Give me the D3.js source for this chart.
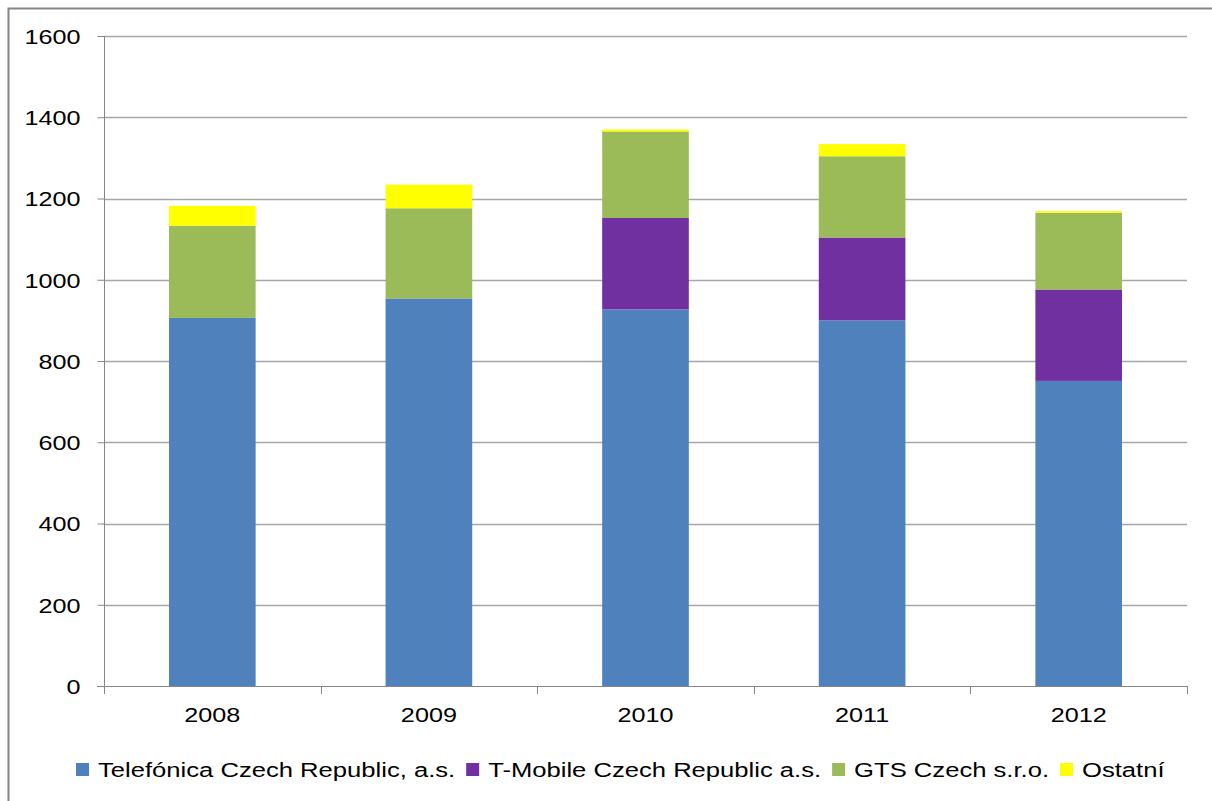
<!DOCTYPE html>
<html>
<head>
<meta charset="utf-8">
<script src="https://cdn.jsdelivr.net/npm/d3@7"></script>
<style>
    body { margin: 0; background: #fff; }
    svg { display: block; font-family: "Liberation Sans", Arial, sans-serif; }
</style>
</head>
<body>
<svg width="1212" height="801"></svg>
<script>
// data
const years = ["2008", "2009", "2010", "2011", "2012"];
const seriesNames = ["Telefónica Czech Republic, a.s.", "T-Mobile Czech Republic a.s.", "GTS Czech s.r.o.", "Ostatní"];
const telefonica = [906, 954, 927, 900, 751];
const tmobile = [0, 0, 225, 204, 225];
const gts = [227, 222, 213, 200, 189];
const ostatni = [49, 58, 5, 30, 4];
const colors = ["#4f81bd", "#7030a0", "#9bbb59", "#ffff00"];
const yTicks = [0, 200, 400, 600, 800, 1000, 1200, 1400, 1600];

const rows = years.map((yr, i) => ({
    year: yr,
    s0: telefonica[i], s1: tmobile[i], s2: gts[i], s3: ostatni[i]
}));

const svg = d3.select("svg");
const plotLeft = 104, plotRight = 1187, plotTop = 36, plotBottom = 686;
const stretch = 1.2; // the original text is a bit wide

// chart frame (runs off the right/bottom edge like the original)
svg.append("rect")
    .attr("x", 8.5).attr("y", 8.5)
    .attr("width", 1220).attr("height", 810)
    .attr("fill", "none")
    .attr("stroke", "#868686")
    .attr("stroke-width", 2);

const x = d3.scaleBand()
    .domain(years)
    .range([plotLeft, plotRight])
    .paddingInner(0.6)
    .paddingOuter(0.3);

const y = d3.scaleLinear()
    .domain([0, 1600])
    .range([plotBottom, plotTop]);

// gridlines
svg.append("g")
    .selectAll("line")
    .data(yTicks.filter(t => t > 0))
    .enter().append("line")
    .attr("x1", plotLeft).attr("x2", plotRight)
    .attr("y1", d => Math.round(y(d)) + 0.5)
    .attr("y2", d => Math.round(y(d)) + 0.5)
    .attr("stroke", "#a6a6a6")
    .attr("stroke-width", 1.3);

// stacked bars
const stack = d3.stack().keys(["s0", "s1", "s2", "s3"]);
const layers = stack(rows);

svg.append("g")
    .selectAll("g")
    .data(layers)
    .enter().append("g")
    .attr("fill", (d, i) => colors[i])
    .selectAll("rect")
    .data(d => d)
    .enter().append("rect")
    .attr("x", d => x(d.data.year))
    .attr("width", x.bandwidth())
    .attr("y", d => y(d[1]))
    .attr("height", d => y(d[0]) - y(d[1]));

// y axis
const yAxis = svg.append("g")
    .attr("transform", `translate(${plotLeft + 0.5},0)`)
    .call(d3.axisLeft(y).tickValues(yTicks).tickFormat(d3.format("d")).tickSize(7));
yAxis.select(".domain").attr("stroke", "#868686").attr("d", `M0,${plotTop}V${plotBottom}`);
yAxis.selectAll(".tick line").attr("stroke", "#868686");
yAxis.selectAll(".tick text")
    .attr("fill", "#000")
    .style("font-size", "21px")
    .attr("x", 0)
    .attr("dy", "0.35em")
    .attr("transform", `translate(-24,0) scale(${stretch},1)`);

// x axis
const xAxis = svg.append("g")
    .attr("transform", `translate(0,${plotBottom + 0.5})`)
    .call(d3.axisBottom(x).tickSize(0));
xAxis.select(".domain").attr("stroke", "#868686").attr("d", `M${plotLeft - 7},0H${plotRight}`);
xAxis.selectAll(".tick text")
    .attr("fill", "#000")
    .style("font-size", "21px")
    .attr("y", 36)
    .attr("dy", 0)
    .attr("transform", `scale(${stretch},1)`);

// category boundary ticks
const step = x.step();
svg.append("g")
    .selectAll("line")
    .data(d3.range(years.length + 1))
    .enter().append("line")
    .attr("x1", i => Math.round(plotLeft + i * step) + 0.5)
    .attr("x2", i => Math.round(plotLeft + i * step) + 0.5)
    .attr("y1", plotBottom).attr("y2", plotBottom + 8)
    .attr("stroke", "#868686");

// legend
const legend = svg.append("g").attr("transform", "translate(76,770)");
let lx = 0;
seriesNames.forEach((name, i) => {
    const g = legend.append("g").attr("transform", `translate(${lx},0)`);
    g.append("rect")
        .attr("x", 0).attr("y", -7)
        .attr("width", 13).attr("height", 13)
        .attr("fill", colors[i]);
    const t = g.append("text")
        .attr("transform", `translate(22,7) scale(1.22,1)`)
        .style("font-size", "21px")
        .attr("fill", "#000")
        .text(name);
    lx += 22 + t.node().getComputedTextLength() * 1.22 + 11;
});
</script>
</body>
</html>
